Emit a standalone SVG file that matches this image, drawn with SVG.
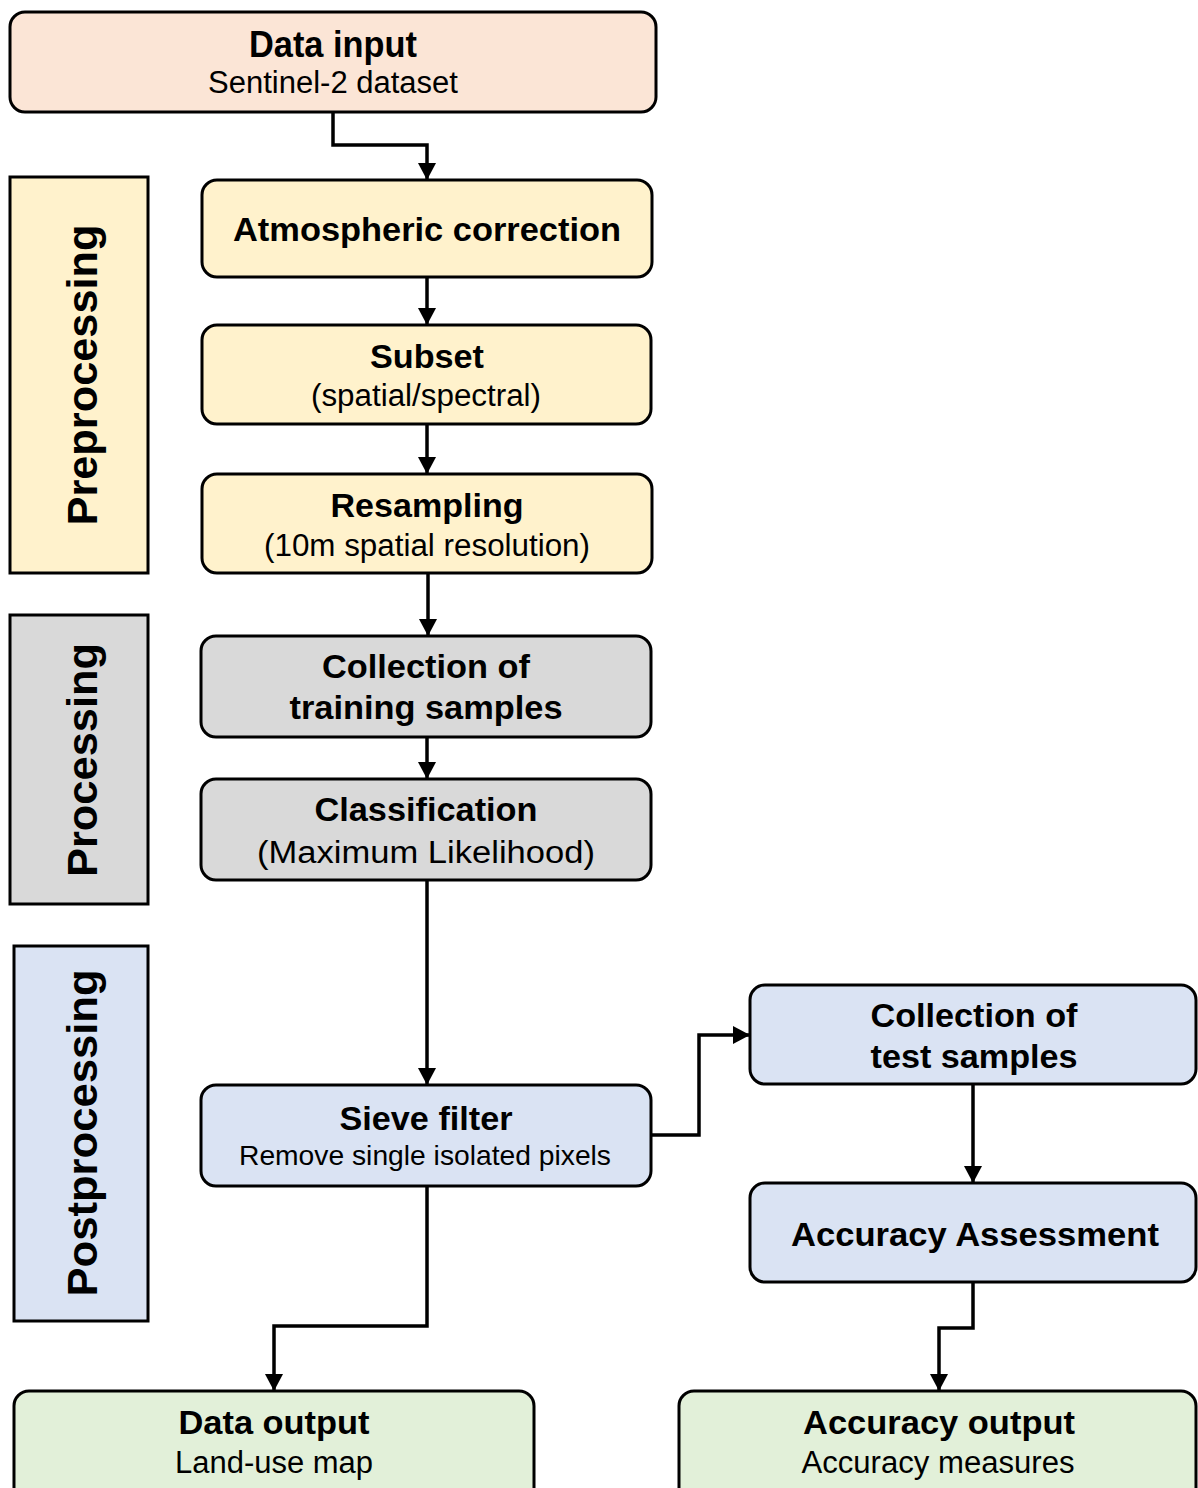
<svg xmlns="http://www.w3.org/2000/svg" width="1198" height="1488" viewBox="0 0 1198 1488">
<style>
.box{stroke:#000;stroke-width:3}
.peach{fill:#FBE5D6}.yellow{fill:#FFF2CC}.grey{fill:#D9D9D9}.blue{fill:#DAE3F3}.green{fill:#E2F0D9}
text{font-family:"Liberation Sans",Arial,sans-serif;fill:#000;text-anchor:middle}
.b{font-weight:bold;font-size:34px}
.r{font-size:31px}
.lab{font-weight:bold;font-size:43px}
.conn path{fill:none;stroke:#000;stroke-width:3.5}
</style>
<defs>
<marker id="arr" markerUnits="userSpaceOnUse" markerWidth="18" markerHeight="18" refX="16" refY="9" orient="auto">
<path d="M0,0 L17,9 L0,18 Z" fill="#000"/>
</marker>
</defs>
<rect width="1198" height="1488" fill="#fff"/>

<g id="lab-pre"><rect class="box yellow" x="10" y="177" width="138" height="396"/>
<text class="lab" transform="translate(97,375) rotate(-90)" textLength="301" lengthAdjust="spacingAndGlyphs">Preprocessing</text></g>
<g id="lab-proc"><rect class="box grey" x="10" y="615" width="138" height="289"/>
<text class="lab" transform="translate(97,760) rotate(-90)" textLength="234" lengthAdjust="spacingAndGlyphs">Processing</text></g>
<g id="lab-post"><rect class="box blue" x="14" y="946" width="134" height="375"/>
<text class="lab" transform="translate(97,1133) rotate(-90)" textLength="327" lengthAdjust="spacingAndGlyphs">Postprocessing</text></g>

<g id="n-input"><rect class="box peach" x="10" y="12" width="646" height="100" rx="15"/>
<text class="b" x="333" y="57" style="font-size:36px" textLength="168" lengthAdjust="spacingAndGlyphs">Data input</text>
<text class="r" x="333" y="93" textLength="250" lengthAdjust="spacingAndGlyphs">Sentinel-2 dataset</text></g>

<g id="n-atmos"><rect class="box yellow" x="202" y="180" width="450" height="97" rx="15"/>
<text class="b" x="427" y="241" textLength="388" lengthAdjust="spacingAndGlyphs">Atmospheric correction</text></g>

<g id="n-subset"><rect class="box yellow" x="202" y="325" width="449" height="99" rx="15"/>
<text class="b" x="427" y="368" textLength="114" lengthAdjust="spacingAndGlyphs">Subset</text>
<text class="r" x="426" y="406" textLength="230" lengthAdjust="spacingAndGlyphs">(spatial/spectral)</text></g>

<g id="n-resamp"><rect class="box yellow" x="202" y="474" width="450" height="99" rx="15"/>
<text class="b" x="427" y="517" textLength="193" lengthAdjust="spacingAndGlyphs">Resampling</text>
<text class="r" x="427" y="556" textLength="326" lengthAdjust="spacingAndGlyphs">(10m spatial resolution)</text></g>

<g id="n-train"><rect class="box grey" x="201" y="636" width="450" height="101" rx="15"/>
<text class="b" x="426" y="678" textLength="208" lengthAdjust="spacingAndGlyphs">Collection of</text>
<text class="b" x="426" y="719" textLength="273" lengthAdjust="spacingAndGlyphs">training samples</text></g>

<g id="n-class"><rect class="box grey" x="201" y="779" width="450" height="101" rx="15"/>
<text class="b" x="426" y="821" textLength="223" lengthAdjust="spacingAndGlyphs">Classification</text>
<text class="r" x="426" y="863" textLength="338" lengthAdjust="spacingAndGlyphs">(Maximum Likelihood)</text></g>

<g id="n-sieve"><rect class="box blue" x="201" y="1085" width="450" height="101" rx="15"/>
<text class="b" x="426" y="1130" textLength="173" lengthAdjust="spacingAndGlyphs">Sieve filter</text>
<text class="r" x="425" y="1165" style="font-size:28px" textLength="372" lengthAdjust="spacingAndGlyphs">Remove single isolated pixels</text></g>

<g id="n-test"><rect class="box blue" x="750" y="985" width="446" height="99" rx="15"/>
<text class="b" x="974" y="1027" textLength="207" lengthAdjust="spacingAndGlyphs">Collection of</text>
<text class="b" x="974" y="1068" textLength="207" lengthAdjust="spacingAndGlyphs">test samples</text></g>

<g id="n-acc"><rect class="box blue" x="750" y="1183" width="446" height="99" rx="15"/>
<text class="b" x="975" y="1246" textLength="368" lengthAdjust="spacingAndGlyphs">Accuracy Assessment</text></g>

<g id="n-dataout"><rect class="box green" x="14" y="1391" width="520" height="130" rx="15"/>
<text class="b" x="274" y="1434" textLength="191" lengthAdjust="spacingAndGlyphs">Data output</text>
<text class="r" x="274" y="1473" textLength="198" lengthAdjust="spacingAndGlyphs">Land-use map</text></g>

<g id="n-accout"><rect class="box green" x="679" y="1391" width="517" height="130" rx="15"/>
<text class="b" x="939" y="1434" textLength="272" lengthAdjust="spacingAndGlyphs">Accuracy output</text>
<text class="r" x="938" y="1473" textLength="273" lengthAdjust="spacingAndGlyphs">Accuracy measures</text></g>

<g class="conn" id="connectors">
<path d="M333,112 V145 H427 V179" marker-end="url(#arr)"/>
<path d="M427,277 V324" marker-end="url(#arr)"/>
<path d="M427,424 V473" marker-end="url(#arr)"/>
<path d="M428,573 V635" marker-end="url(#arr)"/>
<path d="M427,737 V778" marker-end="url(#arr)"/>
<path d="M427,880 V1084" marker-end="url(#arr)"/>
<path d="M651,1135 H699 V1035 H749" marker-end="url(#arr)"/>
<path d="M973,1084 V1182" marker-end="url(#arr)"/>
<path d="M973,1282 V1328 H939 V1390" marker-end="url(#arr)"/>
<path d="M427,1186 V1326 H274 V1390" marker-end="url(#arr)"/>
</g>
</svg>
